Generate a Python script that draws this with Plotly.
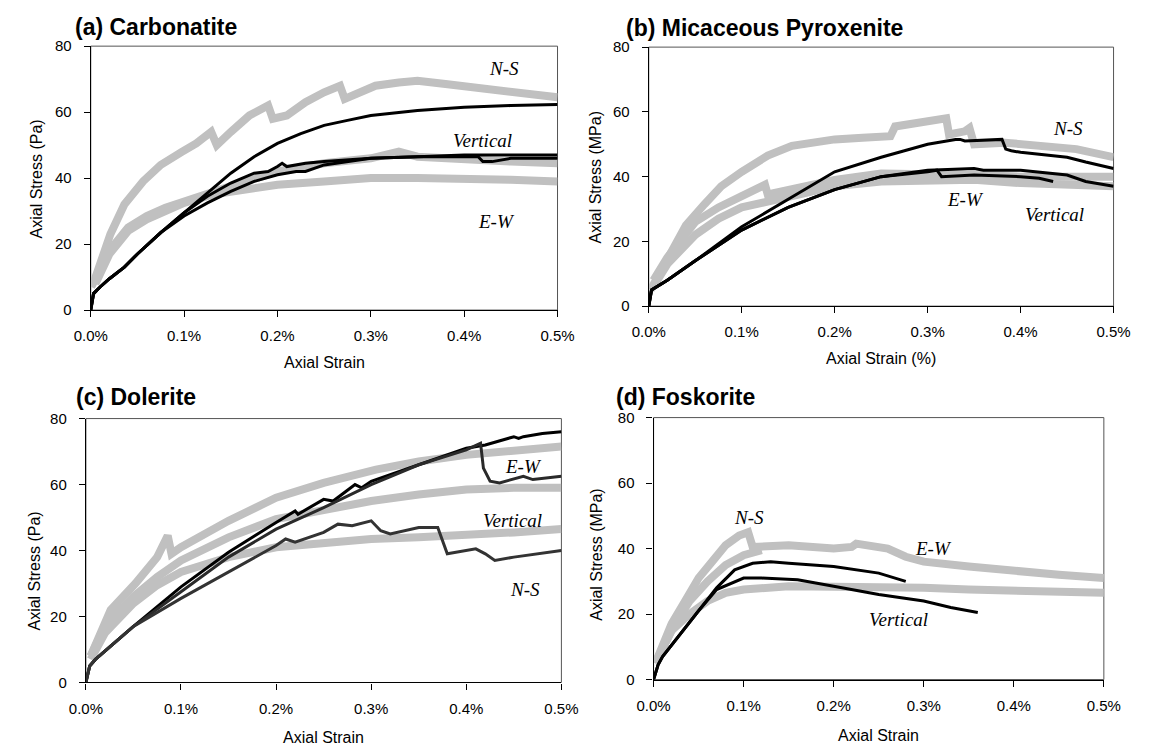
import plotly.graph_objects as go

# ---------------- data (strain in %, stress in MPa) ----------------
# (a) Carbonatite
a_ns_gray_x = [0.0005, 0.004, 0.021, 0.036, 0.056, 0.075, 0.098, 0.113, 0.129, 0.135, 0.15, 0.17, 0.19, 0.195, 0.21, 0.23, 0.25, 0.267, 0.272, 0.29, 0.305, 0.33, 0.35, 0.38, 0.42, 0.46, 0.5]
a_ns_gray_y = [7, 9, 23, 32, 39, 44, 48, 50.5, 54, 50, 54, 59, 62, 58, 59, 63, 66, 68, 64, 66, 68, 69, 69.5, 68.5, 67, 65.5, 64.5]
a_vert_gray_x = [0.005, 0.02, 0.04, 0.06, 0.08, 0.1, 0.13, 0.16, 0.2, 0.25, 0.3, 0.33, 0.35, 0.4, 0.45, 0.5]
a_vert_gray_y = [9, 18, 25, 28.5, 31, 33, 36, 38.5, 42, 44.5, 46, 48, 46.5, 45.5, 45, 44.5]
a_ew_gray_x = [0.005, 0.02, 0.04, 0.06, 0.08, 0.1, 0.13, 0.16, 0.2, 0.25, 0.3, 0.35, 0.4, 0.45, 0.5]
a_ew_gray_y = [8, 17, 24, 27.5, 30, 32.5, 35, 36.5, 38, 39, 40, 40, 40, 39.5, 39]
a_ns_black_x = [0, 0.003, 0.01, 0.02, 0.036, 0.05, 0.075, 0.1, 0.125, 0.15, 0.175, 0.2, 0.225, 0.25, 0.275, 0.3, 0.35, 0.4, 0.45, 0.5]
a_ns_black_y = [0, 5, 7, 9.5, 13, 17, 23.5, 29.5, 35.5, 41.5, 46.5, 50.5, 53.5, 56, 57.5, 59, 60.5, 61.5, 62, 62.3]
a_v1_black_x = [0, 0.003, 0.01, 0.02, 0.036, 0.05, 0.075, 0.1, 0.125, 0.15, 0.175, 0.19, 0.2, 0.205, 0.21, 0.23, 0.25, 0.3, 0.35, 0.4, 0.415, 0.42, 0.43, 0.45, 0.5]
a_v1_black_y = [0, 5, 7, 9.5, 13, 17, 23.5, 29.5, 34.5, 38.5, 41.5, 42, 43.5, 44.5, 43.5, 44.5, 45, 46, 46.5, 46.5, 46.5, 45, 45, 46, 46]
a_v2_black_x = [0, 0.003, 0.01, 0.02, 0.036, 0.05, 0.075, 0.1, 0.125, 0.15, 0.175, 0.2, 0.22, 0.23, 0.25, 0.3, 0.35, 0.4, 0.5]
a_v2_black_y = [0, 5, 7, 9.5, 13, 17, 23.5, 28.5, 32.5, 36, 39, 41, 42, 42, 44, 46, 46.5, 47, 47]

# (b) Micaceous Pyroxenite
b_ns_gray_x = [0.002, 0.01, 0.021, 0.04, 0.06, 0.078, 0.1, 0.128, 0.154, 0.2, 0.23, 0.26, 0.265, 0.29, 0.32, 0.323, 0.34, 0.345, 0.35, 0.383, 0.42, 0.46, 0.5]
b_ns_gray_y = [5, 9, 15, 25, 31.5, 37, 41.5, 46.5, 49.5, 51.5, 52, 52.5, 55.5, 56.5, 58, 53, 54, 55, 50, 50.5, 49.5, 48.5, 46]
b_mid_gray_x = [0.005, 0.02, 0.05, 0.075, 0.1, 0.125, 0.128, 0.15, 0.2, 0.25, 0.3, 0.35, 0.4, 0.45, 0.5]
b_mid_gray_y = [8, 15, 26, 30.5, 34, 37.5, 34.5, 36, 39, 41, 41, 40.5, 40, 40, 40]
b_low_gray_x = [0.005, 0.02, 0.05, 0.075, 0.1, 0.15, 0.2, 0.25, 0.3, 0.35, 0.4, 0.45, 0.5]
b_low_gray_y = [6, 13, 22, 27, 30.5, 34, 37, 38.5, 39, 39, 38, 37.5, 37]
b_ns_black_x = [0, 0.003, 0.02, 0.05, 0.1, 0.15, 0.2, 0.25, 0.3, 0.33, 0.335, 0.34, 0.38, 0.384, 0.39, 0.4, 0.45, 0.47, 0.5]
b_ns_black_y = [0, 5, 8, 14, 24.5, 33, 41.5, 46, 50, 51.5, 51.5, 51, 51.5, 48.5, 48, 47.5, 46, 44.5, 42.5]
b_v_black_x = [0, 0.003, 0.02, 0.05, 0.1, 0.15, 0.2, 0.25, 0.3, 0.35, 0.36, 0.4, 0.45, 0.47, 0.5]
b_v_black_y = [0, 5, 8, 14, 23.5, 30.5, 36, 40, 42, 42.5, 42, 42, 40.5, 38.5, 37]
b_ew_black_x = [0, 0.003, 0.02, 0.05, 0.1, 0.15, 0.2, 0.25, 0.3, 0.31, 0.315, 0.35, 0.4, 0.42, 0.435]
b_ew_black_y = [0, 5, 8, 14, 23.5, 30.5, 36, 40, 41.5, 42, 40, 40.5, 40, 39.5, 38.5]

# (c) Dolerite
c_top_gray_x = [0.005, 0.01, 0.026, 0.052, 0.075, 0.086, 0.09, 0.1, 0.15, 0.2, 0.25, 0.305, 0.35, 0.4, 0.45, 0.5]
c_top_gray_y = [8, 11, 22, 30, 38, 44.5, 39, 41, 49, 56, 60.5, 64.5, 67, 69, 70.5, 71.5]
c_mid_gray_x = [0.005, 0.02, 0.05, 0.075, 0.1, 0.15, 0.2, 0.25, 0.3, 0.35, 0.4, 0.45, 0.5]
c_mid_gray_y = [8, 17, 26, 32, 37, 44, 49.5, 52.5, 55, 57, 58.5, 59, 59]
c_low_gray_x = [0.005, 0.02, 0.05, 0.075, 0.1, 0.15, 0.2, 0.25, 0.3, 0.35, 0.4, 0.45, 0.5]
c_low_gray_y = [7, 15, 24, 29.5, 33.5, 38, 41, 42.5, 43.5, 44, 44.5, 45.5, 46.5]
c_ew1_black_x = [0, 0.004, 0.01, 0.05, 0.1, 0.15, 0.2, 0.22, 0.223, 0.25, 0.26, 0.28, 0.283, 0.29, 0.3, 0.35, 0.4, 0.42, 0.45, 0.455, 0.46, 0.48, 0.5]
c_ew1_black_y = [0, 5, 7, 17, 29, 39.5, 48.5, 52, 51, 55.5, 55, 59.5, 60, 59, 61, 66, 71, 72, 74.5, 74, 74.5, 75.5, 76]
c_ew2_black_x = [0, 0.004, 0.01, 0.05, 0.1, 0.15, 0.2, 0.25, 0.3, 0.35, 0.4, 0.415, 0.418, 0.425, 0.435, 0.46, 0.47, 0.5]
c_ew2_black_y = [0, 5, 7, 17, 27.5, 38, 46.5, 53, 60, 66, 70.5, 72.5, 65, 61, 60.5, 62.5, 61.5, 62.5]
c_ns_black_x = [0, 0.004, 0.01, 0.05, 0.1, 0.15, 0.2, 0.21, 0.22, 0.25, 0.265, 0.28, 0.3, 0.31, 0.32, 0.35, 0.37, 0.38, 0.39, 0.41, 0.42, 0.43, 0.45, 0.5]
c_ns_black_y = [0, 5, 7, 17, 25.5, 33.5, 41.5, 43.5, 42.5, 45.5, 48, 47.5, 49, 46, 45, 47, 47, 39, 39.5, 40.5, 39, 37, 38, 40]

# (d) Foskorite
d_ns_gray_x = [0.002, 0.01, 0.02, 0.035, 0.05, 0.065, 0.08, 0.095, 0.105, 0.11, 0.13, 0.15, 0.2, 0.22, 0.225, 0.26, 0.28, 0.3, 0.35, 0.4, 0.45, 0.5]
d_ns_gray_y = [5, 10, 17, 24, 31, 36, 41, 44, 45, 40.5, 41, 41, 40, 40.5, 41.5, 40, 37.5, 36, 34.5, 33, 32, 31]
d_mid_gray_x = [0.002, 0.02, 0.04, 0.06, 0.08, 0.1, 0.12]
d_mid_gray_y = [5, 15, 24, 30, 35, 38, 39.5]
d_vert_gray_x = [0.002, 0.01, 0.02, 0.04, 0.06, 0.08, 0.1, 0.15, 0.2, 0.25, 0.3, 0.35, 0.4, 0.45, 0.5]
d_vert_gray_y = [5, 10, 15, 20, 24, 26.5, 27.5, 28.5, 28.5, 28.5, 28, 27.5, 27, 26.5, 26.5]
d_b1_black_x = [0, 0.005, 0.01, 0.03, 0.05, 0.07, 0.09, 0.11, 0.13, 0.15, 0.2, 0.25, 0.28]
d_b1_black_y = [0, 4.5, 7, 14, 21, 28, 33.5, 35.5, 36, 35.5, 34.5, 32.5, 30]
d_b2_black_x = [0, 0.005, 0.01, 0.03, 0.05, 0.07, 0.09, 0.1, 0.12, 0.16, 0.2, 0.25, 0.3, 0.33, 0.36]
d_b2_black_y = [0, 4.5, 7, 14, 21, 27.5, 30, 31, 31, 30.5, 28.5, 26, 24, 22, 20.5]

# panel texts
panel_titles = ["(a) Carbonatite", "(b) Micaceous Pyroxenite", "(c) Dolerite", "(d) Foskorite"]
y_titles = ["Axial Stress (Pa)", "Axial Stress (MPa)", "Axial Stress (Pa)", "Axial Stress (MPa)"]
x_titles = ["Axial Strain", "Axial Strain (%)", "Axial Strain", "Axial Strain"]
label_text = [["N-S", "Vertical", "E-W"], ["N-S", "E-W", "Vertical"],
              ["E-W", "Vertical", "N-S"], ["N-S", "E-W", "Vertical"]]
label_x = [[0.443, 0.42, 0.435], [0.451, 0.341, 0.436], [0.46, 0.449, 0.462], [0.106, 0.311, 0.272]]
label_y = [[73.3, 51.5, 26.8], [55, 32.9, 28.4], [65.4, 49, 28.2], [49.6, 40.1, 18.2]]

# ---------------- layout geometry (pixels) ----------------
W, H = 1149, 755
boxes = [  # left, right, top, bottom
    (76, 557, 38, 308),
    (651, 1130, 39, 304),
    (71, 561, 419, 689),
    (656, 1120, 418, 686),
]
title_pos = [(58, 18), (625, 19), (59, 397), (615, 397)]        # left x, center y
ytitle_pos = [(20, 174), (596, 172), (18, 575), (597, 558)]     # center x, center y
xtitle_y = [362, 358, 745, 743]                                  # center y

GRAY = "#c0c0c0"
FONT = "Liberation Sans, Arial, sans-serif"
fig = go.Figure()

gray_sets = [
    [(a_ns_gray_x, a_ns_gray_y), (a_vert_gray_x, a_vert_gray_y), (a_ew_gray_x, a_ew_gray_y)],
    [(b_ns_gray_x, b_ns_gray_y), (b_mid_gray_x, b_mid_gray_y), (b_low_gray_x, b_low_gray_y)],
    [(c_top_gray_x, c_top_gray_y), (c_mid_gray_x, c_mid_gray_y), (c_low_gray_x, c_low_gray_y)],
    [(d_ns_gray_x, d_ns_gray_y), (d_mid_gray_x, d_mid_gray_y), (d_vert_gray_x, d_vert_gray_y)],
]
black_sets = [
    [(a_ns_black_x, a_ns_black_y, "#000000"), (a_v1_black_x, a_v1_black_y, "#000000"), (a_v2_black_x, a_v2_black_y, "#000000")],
    [(b_ns_black_x, b_ns_black_y, "#000000"), (b_v_black_x, b_v_black_y, "#000000"), (b_ew_black_x, b_ew_black_y, "#000000")],
    [(c_ew1_black_x, c_ew1_black_y, "#000000"), (c_ew2_black_x, c_ew2_black_y, "#2a2a2a"), (c_ns_black_x, c_ns_black_y, "#333333")],
    [(d_b1_black_x, d_b1_black_y, "#000000"), (d_b2_black_x, d_b2_black_y, "#000000")],
]

annotations = []
shapes = []
for i in range(4):
    l, r, t, b = boxes[i]
    sfx = "" if i == 0 else str(i + 1)
    xa, ya = "x" + sfx, "y" + sfx
    for gx, gy in gray_sets[i]:
        fig.add_trace(go.Scatter(x=gx, y=gy, mode="lines", xaxis=xa, yaxis=ya,
                                 line=dict(color=GRAY, width=8), hoverinfo="skip", showlegend=False))
    for bx, by, col in black_sets[i]:
        fig.add_trace(go.Scatter(x=bx, y=by, mode="lines", xaxis=xa, yaxis=ya,
                                 line=dict(color=col, width=3), showlegend=False))
    axis_common = dict(showgrid=False, zeroline=False, showline=True, linecolor="#000000", linewidth=1.2,
                       ticks="outside", ticklen=6, tickcolor="#000000",
                       tickfont=dict(family=FONT, size=15, color="#000000"))
    fig.update_layout(**{
        ("xaxis" + sfx): dict(domain=[l / W, r / W], anchor=ya, range=[0, 0.5], dtick=0.1,
                              tickformat=".1f", ticksuffix="%", ticklabelstandoff=6, **axis_common),
        ("yaxis" + sfx): dict(domain=[1 - b / H, 1 - t / H], anchor=xa, range=[0, 80], dtick=20,
                              ticklabelstandoff=9, **axis_common),
    })
    # frame (top/right)
    shapes.append(dict(type="rect", xref=xa + " domain", yref=ya + " domain", x0=0, x1=1, y0=0, y1=1,
                       line=dict(color="#555555", width=1), layer="below"))
    tx, ty = title_pos[i]
    annotations.append(dict(text="<b>" + panel_titles[i] + "</b>", xref="paper", yref="paper",
                            x=tx / W, y=1 - ty / H, xanchor="left", yanchor="middle", showarrow=False,
                            font=dict(family=FONT, size=23, color="#000000")))
    yx, yy = ytitle_pos[i]
    annotations.append(dict(text=y_titles[i], xref="paper", yref="paper", x=yx / W, y=1 - yy / H,
                            xanchor="center", yanchor="middle", textangle=-90, showarrow=False,
                            font=dict(family=FONT, size=16, color="#000000")))
    annotations.append(dict(text=x_titles[i], xref="paper", yref="paper", x=(l + r) / 2 / W,
                            y=1 - xtitle_y[i] / H, xanchor="center", yanchor="middle", showarrow=False,
                            font=dict(family=FONT, size=16, color="#000000")))
    for txt, lx, ly in zip(label_text[i], label_x[i], label_y[i]):
        annotations.append(dict(text="<i>" + txt + "</i>", xref=xa, yref=ya, x=lx, y=ly,
                                showarrow=False,
                                font=dict(family="Liberation Serif, Times New Roman, serif", size=19,
                                          color="#000000")))

fig.update_layout(width=W, height=H, margin=dict(l=0, r=0, t=0, b=0),
                  paper_bgcolor="white", plot_bgcolor="white",
                  annotations=annotations, shapes=shapes, showlegend=False)

fig.write_html("out.html")
